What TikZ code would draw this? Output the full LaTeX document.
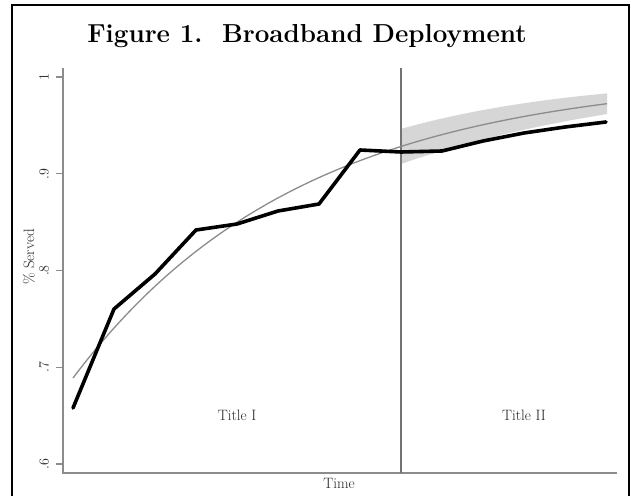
\documentclass[tikz,border=0pt]{standalone}
\begin{document}
\begin{tikzpicture}[x=1pt,y=-1pt,
  declare function={fc(\t)=74.7+303.3*exp(-0.0044*(\t-73)); hw(\t)=17.5-0.035*(\t-402);},
  frame/.style={draw=black,line width=2.4pt},
  axisline/.style={draw=black!45,line width=1.6pt},
  divider/.style={draw=black!55,line width=1.6pt},
  tickmark/.style={draw=black!45,line width=1.2pt},
  ticklab/.style={text=black!85,font=\fontsize{14}{16}\selectfont,rotate=90,inner sep=0pt},
  axlab/.style={text=black!85,font=\fontsize{15}{18}\selectfont,inner sep=0pt},
  band/.style={fill=black!16},
  fitline/.style={draw=black!45,line width=1.3pt},
  dataline/.style={draw=black,line width=3.6pt,line join=round,line cap=round}]
\useasboundingbox (0,0) rectangle (631,495);
\fill[white] (0,0) rectangle (631,495);
\draw[frame] (12,497) -- (12,5) -- (629,5) -- (629,497);
\node[font=\bfseries\fontsize{26}{31}\selectfont,inner sep=0pt] (title) at (307,36) {Figure 1.\ \ Broadband Deployment};
% confidence band
\fill[band] plot[domain=402:607,samples=40] (\x,{fc(\x)-hw(\x)}) -- plot[domain=607:402,samples=40] (\x,{fc(\x)+hw(\x)}) -- cycle;
% axes
\coordinate (ytop) at (63,68);
\coordinate (origin) at (63,473);
\coordinate (xend) at (617,473);
\draw[axisline] (ytop) -- (origin) -- (xend);
\coordinate (dtop) at (401,68);
\coordinate (dbot) at (401,473);
\draw[divider] (dtop) -- (dbot);
\foreach \v/\lab [count=\i] in {1/1,0.9/.9,0.8/.8,0.7/.7,0.6/.6}{
  \coordinate (tk\i) at (63,{77+(1-\v)*967.5});
  \draw[tickmark] (tk\i) -- ++(-7,0);
  \node[ticklab] (tl\i) at (44,{77+(1-\v)*967.5}) {\lab};
}
\node[axlab,rotate=90] (ylab) at (29,257) {\% Served};
\node[axlab] (xlab) at (339,483) {Time};
\node[axlab] (t1) at (237,415) {Title I};
\node[axlab] (t2) at (524,415) {Title II};
% fitted curve
\draw[fitline] plot[domain=73:607,samples=80,smooth] (\x,{fc(\x)});
% data
\foreach \n/\px/\py in {1/73/408,2/114/309,3/155/274,4/196/230,5/237/224,6/278/211,7/319/204,8/360/150,9/401/152,10/442/151,11/483/141,12/524/133,13/565/127,14/606/122}{
  \coordinate (d\n) at (\px,\py);
}
\draw[dataline] (d1) -- (d2) -- (d3) -- (d4) -- (d5) -- (d6) -- (d7) -- (d8) -- (d9) -- (d10) -- (d11) -- (d12) -- (d13) -- (d14);
\end{tikzpicture}
\end{document}
